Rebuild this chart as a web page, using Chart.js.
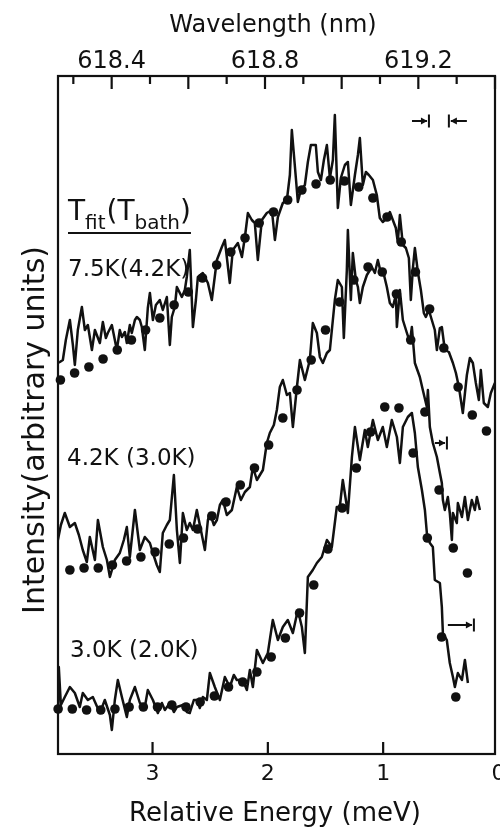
<!DOCTYPE html>
<html>
<head>
<meta charset="utf-8">
<script src="https://cdn.jsdelivr.net/npm/chart.js@4"></script>
<style>
  html, body { margin: 0; padding: 0; background: #fff; }
</style>
</head>
<body>
<canvas id="spec" width="500" height="827"></canvas>
<script>
// relative energy (meV) and intensity (arb. units) for each measured spectrum
const trace75E = [3.821,3.804,3.778,3.752,3.717,3.691,3.674,3.648,3.613,3.587,3.561,3.526,3.500,3.457,3.431,3.405,3.388,3.353,3.327,3.310,3.284,3.266,3.240,3.223,3.197,3.180,3.153,3.136,3.110,3.093,3.067,3.041,3.023,2.997,2.971,2.937,2.911,2.876,2.850,2.833,2.807,2.789,2.746,2.720,2.703,2.677,2.650,2.624,2.607,2.564,2.520,2.486,2.442,2.399,2.373,2.330,2.304,2.260,2.225,2.199,2.173,2.139,2.113,2.087,2.052,2.009,1.965,1.939,1.913,1.870,1.835,1.809,1.792,1.757,1.740,1.714,1.679,1.653,1.627,1.584,1.566,1.540,1.514,1.488,1.462,1.436,1.419,1.393,1.367,1.332,1.306,1.280,1.245,1.219,1.202,1.176,1.150,1.124,1.089,1.055,1.029,1.003,0.968,0.942,0.916,0.890,0.873,0.855,0.829,0.803,0.777,0.760,0.742,0.725,0.699,0.673,0.647,0.630,0.604,0.578,0.552,0.534,0.508,0.491,0.465,0.430,0.395,0.369,0.343,0.309,0.274,0.248,0.222,0.196,0.170,0.153,0.127,0.092,0.066,0.031];
const trace75I = [39.1,39.2,39.4,41.4,43.4,40.9,38.9,42.4,44.7,42.4,42.9,40.4,42.4,41.1,43.2,41.6,42.1,42.9,41.4,40.4,42.4,41.7,42.2,41.1,42.9,42.1,43.4,43.7,43.4,42.7,40.4,44.6,46.1,43.4,44.9,45.4,44.4,45.7,40.9,43.7,44.7,46.7,45.7,46.4,47.7,50.4,42.7,45.4,47.7,48.1,47.1,45.4,49.4,50.7,51.4,47.1,50.4,51.1,49.7,51.7,54.1,53.4,53.1,49.4,53.4,54.1,54.4,51.4,53.7,55.1,55.4,57.9,62.4,57.6,55.2,56.4,56.9,59.2,60.9,60.9,58.2,57.4,59.4,60.9,57.6,59.4,63.9,54.6,57.6,58.9,59.2,54.9,57.9,59.9,61.6,56.9,58.2,57.9,57.4,55.9,53.6,53.2,53.6,54.2,53.4,52.6,51.2,53.9,50.9,50.6,49.6,45.4,48.6,50.6,48.2,46.4,44.1,43.7,44.4,43.4,42.4,40.4,42.6,42.7,40.4,40.2,39.1,38.1,36.7,34.1,37.9,39.6,39.1,37.1,35.4,38.4,35.1,34.7,36.1,37.1];

const trace42E = [3.821,3.795,3.761,3.717,3.674,3.639,3.605,3.570,3.544,3.500,3.474,3.431,3.396,3.370,3.327,3.284,3.249,3.223,3.197,3.153,3.110,3.067,3.023,2.997,2.963,2.937,2.911,2.876,2.850,2.815,2.789,2.763,2.737,2.703,2.677,2.650,2.616,2.581,2.546,2.520,2.503,2.468,2.442,2.416,2.390,2.356,2.312,2.269,2.234,2.199,2.156,2.130,2.095,2.069,2.043,2.009,1.983,1.948,1.922,1.896,1.870,1.835,1.809,1.783,1.748,1.722,1.679,1.636,1.610,1.575,1.549,1.523,1.488,1.462,1.419,1.393,1.358,1.341,1.315,1.306,1.280,1.263,1.237,1.219,1.202,1.176,1.141,1.098,1.072,1.046,1.020,1.003,0.968,0.942,0.916,0.890,0.881,0.855,0.829,0.794,0.768,0.751,0.725,0.682,0.656,0.621,0.612,0.595,0.569,0.534,0.508,0.491,0.482,0.465,0.439,0.422,0.404,0.395,0.361,0.352,0.317,0.291,0.265,0.231,0.205,0.187,0.161];
const trace42I = [21.4,22.9,24.1,22.7,23.1,21.9,20.4,19.2,21.7,19.4,23.4,20.7,19.4,17.7,19.4,20.1,21.4,22.7,19.7,24.4,20.4,21.7,21.1,20.1,18.9,18.2,22.1,22.9,23.4,27.9,22.4,19.1,24.1,22.4,23.1,22.4,24.4,22.4,20.4,23.4,24.1,22.9,23.4,24.9,25.4,23.9,24.4,26.7,25.4,26.2,26.7,28.7,27.4,27.9,28.4,31.1,32.1,32.9,34.4,36.7,37.4,35.9,36.1,32.7,36.7,39.4,37.4,39.4,43.1,42.1,39.7,39.1,40.1,40.4,45.4,47.4,46.7,41.6,48.4,52.4,45.4,50.1,47.4,46.7,45.1,46.7,47.9,48.7,48.1,49.4,48.1,48.4,46.7,45.1,44.7,45.9,42.7,46.4,43.4,42.1,41.2,42.7,39.1,37.7,36.4,34.7,36.4,32.7,31.1,29.7,28.1,27.1,25.4,24.4,25.7,24.1,21.4,24.1,23.1,25.1,23.7,25.7,23.4,25.4,24.4,25.7,24.4];

const trace30E = [3.821,3.813,3.795,3.761,3.717,3.674,3.631,3.605,3.561,3.518,3.457,3.414,3.370,3.353,3.327,3.301,3.266,3.223,3.197,3.153,3.110,3.067,3.041,2.997,2.954,2.919,2.893,2.850,2.815,2.789,2.737,2.703,2.677,2.642,2.616,2.590,2.564,2.529,2.503,2.460,2.416,2.373,2.330,2.295,2.269,2.217,2.182,2.156,2.130,2.095,2.043,2.000,1.957,1.913,1.870,1.827,1.783,1.740,1.705,1.679,1.653,1.610,1.575,1.532,1.488,1.445,1.402,1.376,1.350,1.306,1.271,1.245,1.202,1.159,1.133,1.089,1.046,1.003,0.968,0.925,0.881,0.855,0.829,0.786,0.751,0.725,0.699,0.664,0.638,0.621,0.595,0.569,0.552,0.508,0.491,0.482,0.448,0.422,0.395,0.378,0.352,0.317,0.291,0.265];
const trace30I = [4.4,8.7,4.9,5.7,6.7,6.1,4.7,6.1,5.4,5.7,4.1,5.4,3.9,2.4,5.4,7.4,5.7,3.7,5.4,6.7,5.1,4.7,6.4,5.4,4.1,5.1,4.4,5.1,4.2,4.7,4.9,4.2,4.1,5.4,5.4,4.6,5.7,5.4,8.1,6.7,5.4,7.7,6.7,7.9,7.4,7.4,6.4,8.4,6.7,10.4,9.1,10.1,13.4,11.4,12.7,13.4,12.1,14.4,12.7,10.1,17.7,18.4,19.1,19.7,21.4,20.7,24.7,24.7,27.4,24.1,29.7,32.7,29.4,32.4,30.7,33.4,31.4,32.7,30.7,33.4,31.7,29.1,32.7,33.7,34.1,32.1,28.7,26.4,24.4,22.1,21.1,20.7,17.4,17.1,14.7,12.1,11.4,9.1,7.7,6.7,8.1,7.4,9.4,7.1];

// fitted line shapes (dots)
const fit75E = [3.799,3.676,3.552,3.429,3.306,3.183,3.060,2.937,2.813,2.690,2.567,2.444,2.321,2.198,2.075,1.951,1.828,1.705,1.582,1.459,1.336,1.212,1.089,0.966,0.843,0.720,0.597,0.474,0.350,0.227,0.104];
const fit75I = [37.4,38.1,38.7,39.5,40.4,41.4,42.4,43.6,44.9,46.2,47.6,48.9,50.2,51.6,53.1,54.2,55.4,56.4,57.0,57.4,57.3,56.7,55.6,53.7,51.2,48.2,44.5,40.6,36.7,33.9,32.3];
const fit42E = [3.717,3.594,3.471,3.348,3.225,3.101,2.978,2.855,2.732,2.609,2.486,2.363,2.239,2.116,1.993,1.870,1.747,1.624,1.500,1.377,1.254,1.131,1.008,0.885,0.761,0.638,0.515,0.392,0.269];
const fit42I = [18.4,18.6,18.6,18.9,19.3,19.7,20.2,21.0,21.6,22.5,23.8,25.2,26.9,28.6,30.9,33.6,36.4,39.4,42.4,45.2,47.4,48.7,48.2,46.0,41.4,34.2,26.4,20.6,18.1];
const fit30E = [3.819,3.696,3.572,3.449,3.326,3.203,3.080,2.957,2.833,2.710,2.587,2.464,2.341,2.218,2.095,1.971,1.848,1.725,1.602,1.479,1.356,1.232,1.109,0.986,0.863,0.740,0.617,0.493,0.370];
const fit30I = [4.5,4.5,4.4,4.4,4.5,4.7,4.7,4.7,4.9,4.7,5.2,5.8,6.7,7.2,8.2,9.7,11.6,14.1,16.9,20.5,24.6,28.6,32.2,34.7,34.6,30.1,21.6,11.7,5.7];

const curveLabels = ['7.5K(4.2K)', '4.2K (3.0K)', '3.0K (2.0K)'];

// axis ticks
const energyTicks = [3, 2, 1, 0];
const wavelengthTicks = [618.3, 618.4, 618.5, 618.6, 618.7, 618.8, 618.9, 619.0, 619.1, 619.2, 619.3, 619.4];
const wavelengthLabels = [618.4, 618.8, 619.2];

// spectral resolution markers: arrow tail, arrow head (meV), height (arb. units)
const resTail = [0.750, 0.274, 0.552, 0.439];
const resHead = [0.603, 0.430, 0.447, 0.213];
const resLevel = [63.3, 63.3, 31.1, 12.9];

const ink = '#111';
const FONT = '"DejaVu Sans", "Liberation Sans", sans-serif';

const pts = (xs, ys) => xs.slice(0, Math.min(xs.length, ys.length)).map((v, i) => ({ x: v, y: ys[i] }));

const lineSet = (xs, ys) => ({
  data: pts(xs, ys), showLine: true, pointRadius: 0,
  borderColor: ink, borderWidth: 2.5, borderJoinStyle: 'round', tension: 0
});
const dotSet = (xs, ys) => ({
  data: pts(xs, ys), showLine: false, pointRadius: 4.8,
  backgroundColor: ink, borderWidth: 0, clip: false
});

function arrow(ctx, x0, x1, yy) {
  const dir = Math.sign(x1 - x0);
  ctx.beginPath();
  ctx.moveTo(x0, yy); ctx.lineTo(x1 - dir * 2, yy);
  ctx.moveTo(x1, yy - 6.5); ctx.lineTo(x1, yy + 6.5);
  ctx.stroke();
  ctx.beginPath();
  ctx.moveTo(x1 - dir * 1.5, yy);
  ctx.lineTo(x1 - dir * 8, yy - 3.5);
  ctx.lineTo(x1 - dir * 8, yy + 3.5);
  ctx.closePath();
  ctx.fill();
}

const axesFrame = {
  id: 'axesFrame',
  afterDatasetsDraw(chart) {
    const { ctx, chartArea: a, scales } = chart;
    const x = scales.x, y = scales.y, wl = scales.wl;
    ctx.save();
    ctx.strokeStyle = ink;
    ctx.fillStyle = ink;
    ctx.lineWidth = 2.2;
    ctx.strokeRect(a.left, a.top, a.right - a.left, a.bottom - a.top);

    // inward ticks
    ctx.beginPath();
    energyTicks.forEach(v => {
      const px = x.getPixelForValue(v);
      if (px < a.right - 2) { ctx.moveTo(px, a.bottom); ctx.lineTo(px, a.bottom - 12); }
    });
    wavelengthTicks.forEach(v => {
      const px = wl.getPixelForValue(v);
      const long = Math.round(v * 10) % 2 === 0;
      ctx.moveTo(px, a.top); ctx.lineTo(px, a.top + (long ? 13 : 8));
    });
    ctx.stroke();

    // resolution arrows
    ctx.lineWidth = 2;
    resTail.forEach((t, i) => {
      arrow(ctx, x.getPixelForValue(t), x.getPixelForValue(resHead[i]), y.getPixelForValue(resLevel[i]));
    });

    // tick labels and axis titles
    ctx.textAlign = 'center';
    ctx.textBaseline = 'alphabetic';
    ctx.font = '22px ' + FONT;
    energyTicks.forEach(v => ctx.fillText(String(v), x.getPixelForValue(v), 780));
    ctx.font = '24px ' + FONT;
    wavelengthLabels.forEach(v => ctx.fillText(v.toFixed(1), wl.getPixelForValue(v), 68));
    ctx.fillText('Wavelength (nm)', 273, 32);
    ctx.font = '26px ' + FONT;
    ctx.fillText('Relative Energy (meV)', 275, 821);

    ctx.save();
    ctx.translate(44, 430);
    ctx.rotate(-Math.PI / 2);
    ctx.font = '30px ' + FONT;
    ctx.fillText('Intensity(arbitrary units)', 0, 0);
    ctx.restore();

    // legend heading: T_fit(T_bath), underlined
    ctx.textAlign = 'left';
    const big = '28px ' + FONT, small = '20px ' + FONT;
    let cx = 68;
    const parts = [['T', big, 0], ['fit', small, 9], ['(', big, 0], ['T', big, 0], ['bath', small, 9], [')', big, 0]];
    parts.forEach(([s, f, dy]) => {
      ctx.font = f;
      ctx.fillText(s, cx, 220 + dy);
      cx += ctx.measureText(s).width + (s === 'fit' ? 1 : 0);
    });
    ctx.lineWidth = 2.2;
    ctx.beginPath(); ctx.moveTo(68, 233); ctx.lineTo(cx, 233); ctx.stroke();

    // curve labels
    ctx.font = '23px ' + FONT;
    ctx.fillText(curveLabels[0], 68, 276);
    ctx.fillText(curveLabels[1], 67, 465);
    ctx.fillText(curveLabels[2], 70, 657);
    ctx.restore();
  }
};

new Chart(document.getElementById('spec'), {
  type: 'scatter',
  data: {
    datasets: [
      lineSet(trace75E, trace75I), dotSet(fit75E, fit75I),
      lineSet(trace42E, trace42I), dotSet(fit42E, fit42I),
      lineSet(trace30E, trace30I), dotSet(fit30E, fit30I)
    ]
  },
  options: {
    responsive: false,
    animation: false,
    devicePixelRatio: 1,
    layout: { padding: { left: 58, top: 76, right: 5, bottom: 73 } },
    plugins: { legend: { display: false }, tooltip: { enabled: false } },
    scales: {
      x: { type: 'linear', reverse: true, min: 0.03, max: 3.82, display: false },
      y: { type: 'linear', min: 0, max: 67.8, display: false },
      wl: { type: 'linear', axis: 'x', position: 'top', min: 618.26, max: 619.40, display: false }
    }
  },
  plugins: [axesFrame]
});
</script>
</body>
</html>
